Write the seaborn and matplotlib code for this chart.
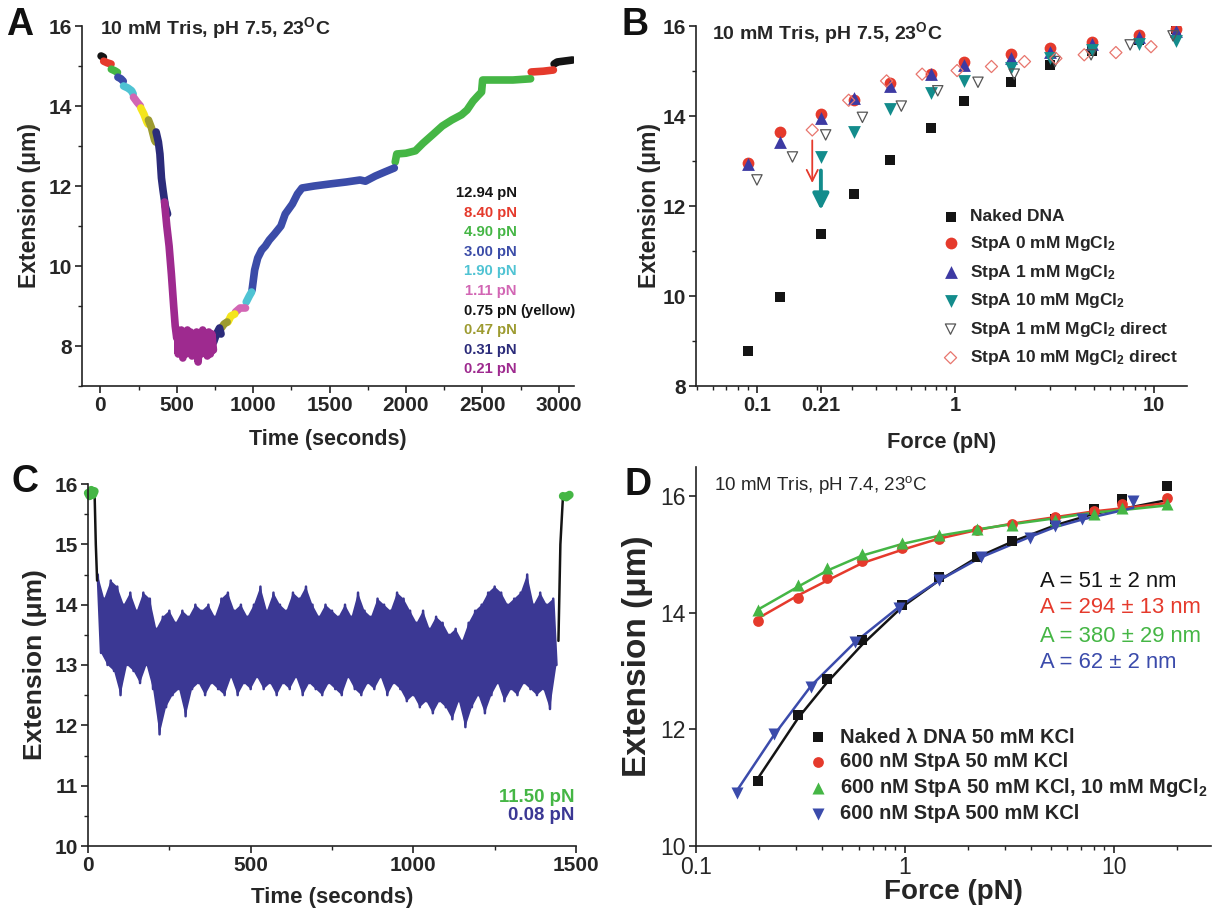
import numpy as np
import pandas as pd
import matplotlib
matplotlib.use("Agg")
import matplotlib.pyplot as plt
import seaborn as sns
from matplotlib import font_manager
from matplotlib.ticker import MultipleLocator, LogLocator, NullFormatter

# ---------------- data ----------------
# Panel A: extension trace (time s, extension um, applied force label)
a_time = [5, 20,
          22, 45, 70,
          72, 95, 112,
          115, 135, 150,
          152, 180, 205, 215,
          217, 240, 262,
          265, 285, 305, 312,
          315, 335, 355, 362,
          365, 380, 390, 400, 410, 425, 440,
          420, 435, 450, 465, 480, 490, 500, 505, 510, 515, 520, 530, 540, 550, 560, 570,
          580, 590, 600, 610, 620, 630, 640, 650, 660, 670, 680, 690, 700, 710, 720, 730, 740,
          742, 760, 780, 790,
          792, 810, 830,
          835, 855, 880,
          885, 915, 950,
          955, 975, 990,
          993, 1010, 1030, 1056, 1080, 1106, 1140, 1182, 1210, 1257, 1290, 1320, 1400, 1500,
          1609, 1700, 1735, 1800, 1861, 1924,
          1930, 1940, 2000, 2062, 2112, 2180, 2238, 2300, 2364, 2400, 2439, 2470, 2495, 2502,
          2600, 2700, 2816,
          2820, 2900, 2965,
          2970, 2990, 3030, 3090]
a_ext = [15.25, 15.22,
         15.12, 15.08, 15.05,
         14.92, 14.88, 14.84,
         14.72, 14.68, 14.62,
         14.50, 14.45, 14.38, 14.30,
         14.22, 14.10, 14.00,
         13.95, 13.80, 13.60, 13.55,
         13.65, 13.45, 13.15, 13.10,
         13.35, 13.10, 12.80, 12.20, 11.90, 11.50, 11.30,
         11.60, 11.00, 10.50, 9.80, 9.00, 8.50, 8.20, 8.40, 7.80, 8.35, 7.90, 8.40, 7.70, 8.30, 7.80, 8.40,
         7.90, 8.35, 7.75, 8.30, 7.85, 8.35, 7.60, 8.30, 7.80, 8.40, 7.85, 8.30, 7.75, 8.35, 7.80, 8.30, 7.90,
         8.10, 8.30, 8.45, 8.30,
         8.45, 8.55, 8.60,
         8.60, 8.75, 8.80,
         8.85, 8.95, 8.95,
         9.10, 9.25, 9.35,
         9.40, 9.90, 10.20, 10.40, 10.50, 10.65, 10.80, 11.00, 11.30, 11.55, 11.80, 11.95, 12.00, 12.05,
         12.10, 12.15, 12.12, 12.25, 12.35, 12.45,
         12.60, 12.80, 12.82, 12.88, 13.07, 13.30, 13.50, 13.65, 13.78, 13.90, 14.12, 14.25, 14.35, 14.65,
         14.65, 14.65, 14.68,
         14.85, 14.87, 14.90,
         15.05, 15.10, 15.12, 15.15]
a_force = (["12.94"] * 2 + ["8.40"] * 3 + ["4.90"] * 3 + ["3.00"] * 3 + ["1.90"] * 4 +
           ["1.11"] * 3 + ["0.75"] * 4 + ["0.47"] * 4 + ["0.31"] * 7 + ["0.21"] * 33 +
           ["0.31"] * 4 + ["0.47"] * 3 + ["0.75"] * 3 + ["1.11"] * 3 + ["1.90"] * 3 +
           ["3.00"] * 20 + ["4.90"] * 17 + ["8.40"] * 3 + ["12.94"] * 4)

a_labels = ["12.94", "8.40", "4.90", "3.00", "1.90", "1.11", "0.75", "0.47", "0.31", "0.21"]
force_colors = {"12.94": "#141414", "8.40": "#e53a2c", "4.90": "#45b645",
                "3.00": "#3b4ca8", "1.90": "#4fc3d3", "1.11": "#d266b4",
                "0.75": "#f4e51c", "0.47": "#9d9b30", "0.31": "#2b2b7a",
                "0.21": "#9e2a8f"}

# Panel B: force-extension
b_force = [0.09, 0.131, 0.21, 0.31, 0.47, 0.75, 1.11, 1.9, 3.0, 4.9, 8.4, 12.94]
b_naked = [8.77, 9.98, 11.37, 12.26, 13.03, 13.74, 14.34, 14.75, 15.13, 15.45, 15.70, 15.93]
b_stpa0 = [12.96, 13.65, 14.04, 14.35, 14.74, 14.93, 15.21, 15.37, 15.52, 15.64, 15.81, 15.93]
b_stpa1 = [12.93, 13.42, 13.95, 14.41, 14.67, 14.93, 15.13, 15.28, 15.43, 15.61, 15.76, 15.90]
b_force10 = [0.21, 0.31, 0.47, 0.75, 1.11, 1.9, 3.0, 4.9, 8.4, 12.94]
b_stpa10 = [13.09, 13.65, 14.15, 14.52, 14.78, 15.06, 15.28, 15.47, 15.59, 15.67]
b_force_d1 = [0.1, 0.151, 0.222, 0.34, 0.534, 0.815, 1.30, 1.98, 3.18, 4.83, 7.6, 12.5]
b_direct1 = [12.58, 13.09, 13.58, 13.97, 14.22, 14.56, 14.75, 14.93, 15.21, 15.36, 15.58, 15.78]
b_force_d10 = [0.19, 0.29, 0.45, 0.68, 1.02, 1.52, 2.23, 3.21, 4.46, 6.44, 9.68]
b_direct10 = [13.69, 14.35, 14.78, 14.93, 15.01, 15.10, 15.21, 15.28, 15.36, 15.41, 15.54]

# Panel C: constant low-force trace (upper / lower excursions of the noisy signal)
c_hi = [14.5, 14.1, 14.4, 14.3, 14.0, 14.2, 13.9, 14.2, 14.1, 13.6,
        13.8, 13.9, 13.7, 13.9, 13.8, 14.0, 13.9, 14.0, 13.8, 14.1,
        14.2, 13.9, 14.0, 13.8, 14.0, 14.3, 13.9, 14.2, 14.0, 13.9,
        14.2, 14.1, 14.3, 14.0, 13.8, 14.0, 13.9, 13.8, 14.0, 13.8,
        14.2, 13.9, 13.8, 14.1, 14.0, 13.9, 14.2, 14.1, 13.9, 13.7,
        13.9, 13.6, 13.8, 13.7, 13.5, 13.6, 13.4, 13.7, 13.9, 14.0,
        14.2, 14.3, 14.2, 14.0, 14.1, 14.2, 14.5, 14.0, 14.2, 14.0,
        14.1]
c_lo = [13.2, 13.0, 12.9, 12.5, 13.0, 12.9, 12.7, 13.0, 12.6, 11.85,
        12.3, 12.5, 12.6, 12.15, 12.6, 12.7, 12.5, 12.7, 12.6, 12.5,
        12.8, 12.5, 12.7, 12.6, 12.8, 12.6, 12.7, 12.5, 12.7, 12.6,
        12.8, 12.5, 12.7, 12.6, 12.5, 12.7, 12.6, 12.5, 12.8, 12.6,
        12.5, 12.7, 12.6, 12.8, 12.5, 12.7, 12.6, 12.4, 12.5, 12.3,
        12.4, 12.2, 12.4, 12.3, 12.1, 12.4, 11.97, 12.3, 12.5, 12.2,
        12.5, 12.7, 12.4, 12.6, 12.5, 12.7, 12.6, 12.5, 12.6, 12.27,
        13.0]
c_start_t = [0, 5, 10, 15, 20]
c_start = [15.85, 15.80, 15.90, 15.82, 15.88]
c_drop_t = [20, 24, 28]
c_drop = [15.90, 15.00, 14.40]
c_rise_t = [1446, 1452, 1460]
c_rise = [13.40, 15.00, 15.80]
c_end_t = [1460, 1470, 1480]
c_end = [15.80, 15.78, 15.82]

# Panel D: force-extension with fits
d_force = [0.197, 0.309, 0.423, 0.623, 0.97, 1.45, 2.22, 3.27, 5.24, 8.07, 10.9, 17.9]
d_naked = [11.11, 12.24, 12.86, 13.53, 14.14, 14.62, 14.96, 15.23, 15.61, 15.78, 15.95, 16.17]
d_stpa50 = [13.86, 14.25, 14.59, 14.88, 15.11, 15.26, 15.42, 15.52, 15.65, 15.75, 15.87, 15.97]
d_stpa_mg = [14.05, 14.47, 14.76, 15.00, 15.20, 15.34, 15.44, 15.51, 15.59, 15.70, 15.80, 15.87]
d_force_salt = [0.157, 0.236, 0.356, 0.579, 0.937, 1.45, 2.31, 3.96, 5.24, 7.08, 12.4]
d_salt = [10.91, 11.92, 12.73, 13.50, 14.09, 14.57, 14.95, 15.29, 15.49, 15.61, 15.92]
d_fit_naked = [11.15, 12.20, 12.80, 13.45, 14.10, 14.55, 14.95, 15.22, 15.50, 15.70, 15.78, 15.93]
d_fit_stpa50 = [13.90, 14.30, 14.55, 14.85, 15.08, 15.27, 15.42, 15.53, 15.64, 15.74, 15.79, 15.88]
d_fit_stpa_mg = [14.05, 14.45, 14.72, 14.98, 15.18, 15.32, 15.43, 15.52, 15.62, 15.72, 15.76, 15.84]
d_fit_salt = [10.95, 11.90, 12.75, 13.50, 14.10, 14.55, 14.95, 15.30, 15.47, 15.60, 15.80]
d_fit_text = ["A = 51 ± 2 nm", "A = 294 ± 13 nm", "A = 380 ± 29 nm", "A = 62 ± 2 nm"]

# ---------------- style ----------------
sns.set_theme(style="ticks")
names = {f.name for f in font_manager.fontManager.ttflist}
BASE = "Liberation Sans" if "Liberation Sans" in names else "DejaVu Sans"
NARROW = "Liberation Sans Narrow" if "Liberation Sans Narrow" in names else BASE
plt.rcParams["font.family"] = [BASE, "DejaVu Sans"]
plt.rcParams["mathtext.fontset"] = "custom"
plt.rcParams["mathtext.rm"] = BASE
plt.rcParams["mathtext.bf"] = BASE + ":bold"
plt.rcParams["mathtext.it"] = BASE + ":italic"
plt.rcParams["axes.linewidth"] = 1.2
plt.rcParams["axes.edgecolor"] = "#222222"

BLACK, RED, GREEN = "#141414", "#e53a2c", "#45b645"
INDIGO, TEAL, NAVY = "#3d3aa3", "#138c8c", "#3b3894"

W, H = 1213, 919
fig = plt.figure(figsize=(W / 100, H / 100), dpi=100, facecolor="white")


def rect(l, r, t, b):
    return [l / W, 1 - b / H, (r - l) / W, (b - t) / H]


axA = fig.add_axes(rect(82, 574, 26, 386))
axB = fig.add_axes(rect(696, 1187, 26, 386))
axC = fig.add_axes(rect(88, 576, 484, 846))
axD = fig.add_axes(rect(696, 1211, 467, 846))

for ax in (axA, axB, axC, axD):
    sns.despine(ax=ax)
    ax.tick_params(which="major", direction="out", length=5, width=1.2, pad=2.5, color="#222222")
    ax.tick_params(which="minor", direction="out", length=3, width=1.0, color="#222222")

# ---------------- panel A ----------------
dfA = pd.DataFrame({"t": a_time, "ext": a_ext, "force": a_force})
dfA["seg"] = (dfA["force"] != dfA["force"].shift()).cumsum()
sns.lineplot(data=dfA, x="t", y="ext", hue="force", units="seg", estimator=None, sort=False,
             palette=force_colors, linewidth=5.5, legend=False, ax=axA)
axA.set_xlim(-120, 3100)
axA.set_ylim(7, 16)
axA.set_xticks([0, 500, 1000, 1500, 2000, 2500, 3000],
               labels=["0", "500", "1000", "1500", "2000", "2500", "3000"],
               fontsize=15, fontweight="bold")
axA.set_yticks([8, 10, 12, 14, 16], labels=["8", "10", "12", "14", "16"],
               fontsize=15, fontweight="bold")
axA.xaxis.set_minor_locator(MultipleLocator(250))
axA.yaxis.set_minor_locator(MultipleLocator(1))
axA.set_xlabel("Time (seconds)", fontsize=15.5, fontweight="bold", labelpad=10)
axA.set_ylabel("Extension (μm)", fontsize=16.5, fontweight="bold", labelpad=5)
axA.text(0.037, 0.995, r"10 mM Tris, pH 7.5, 23$^{\mathbf{O}}$C", transform=axA.transAxes,
         fontsize=14, fontweight="bold", family=NARROW, va="center", ha="left")
for i, f in enumerate(a_labels):
    yy = 1 - (193 + i * 19.6 - 26) / 360
    col = BLACK if f in ("12.94", "0.75") else force_colors[f]
    axA.text(0.884, yy, f + " pN", transform=axA.transAxes, fontsize=10.7, fontweight="bold",
             color=col, ha="right", va="center")
    if f == "0.75":
        axA.text(0.891, yy, "(yellow)", transform=axA.transAxes, fontsize=10.7,
                 fontweight="bold", color=BLACK, ha="left", va="center")

# ---------------- panel B ----------------
sns.scatterplot(x=b_force, y=b_naked, marker="s", s=50, color=BLACK, linewidth=0,
                label="Naked DNA", ax=axB, zorder=3)
sns.scatterplot(x=b_force, y=b_stpa0, marker="o", s=72, color=RED, linewidth=0,
                label=r"StpA 0 mM MgCl$_\mathbf{2}$", ax=axB, zorder=3)
sns.scatterplot(x=b_force, y=b_stpa1, marker="^", s=85, color=INDIGO, linewidth=0,
                label=r"StpA 1 mM MgCl$_\mathbf{2}$", ax=axB, zorder=4)
sns.scatterplot(x=b_force10, y=b_stpa10, marker="v", s=85, color=TEAL, linewidth=0,
                label=r"StpA 10 mM MgCl$_\mathbf{2}$", ax=axB, zorder=4)
sns.scatterplot(x=b_force_d1, y=b_direct1, marker="v", s=55, color="#555555", linewidth=0.9,
                label=r"StpA 1 mM MgCl$_\mathbf{2}$ direct", ax=axB, zorder=5)
axB.collections[-1].set_facecolor("none")
axB.collections[-1].set_edgecolor("#555555")
sns.scatterplot(x=b_force_d10, y=b_direct10, marker="D", s=38, color="#e8766e", linewidth=0.9,
                label=r"StpA 10 mM MgCl$_\mathbf{2}$ direct", ax=axB, zorder=5)
axB.collections[-1].set_facecolor("none")
axB.collections[-1].set_edgecolor("#e8766e")
axB.annotate("", xy=(0.19, 12.45), xytext=(0.19, 13.52),
             arrowprops=dict(arrowstyle="->", color=RED, lw=1.3, mutation_scale=20))
axB.annotate("", xy=(0.21, 11.85), xytext=(0.21, 12.85),
             arrowprops=dict(arrowstyle="-|>", color=TEAL, lw=2.8, mutation_scale=24))
axB.set_xscale("log")
axB.set_xlim(0.0493, 14.7)
axB.set_ylim(8, 16)
axB.set_xticks([0.1, 0.21, 1, 10], labels=["0.1", "0.21", "1", "10"],
               fontsize=14.5, fontweight="bold")
axB.xaxis.set_minor_locator(LogLocator(base=10, subs=np.arange(2, 10)))
axB.xaxis.set_minor_formatter(NullFormatter())
axB.set_yticks([8, 10, 12, 14, 16], labels=["8", "10", "12", "14", "16"],
               fontsize=15, fontweight="bold")
axB.yaxis.set_minor_locator(MultipleLocator(1))
axB.set_xlabel("Force (pN)", fontsize=15.7, fontweight="bold", labelpad=12)
axB.set_ylabel("Extension (μm)", fontsize=16.5, fontweight="bold", labelpad=1)
axB.text(0.033, 0.98, r"10 mM Tris, pH 7.5, 23$^{\mathbf{O}}$C", transform=axB.transAxes,
         fontsize=14, fontweight="bold", family=NARROW, va="center", ha="left")
axB.legend(loc="upper left", bbox_to_anchor=(0.483, 0.51), frameon=False,
           prop={"weight": "bold", "size": 12.5}, handletextpad=0.5, labelspacing=0.55,
           borderaxespad=0, borderpad=0.4, handlelength=1.2)

# ---------------- panel C ----------------
n = len(c_hi)
t_hi = 30 + 20 * np.arange(n)
t_lo = t_hi + 10
t_zig = np.empty(2 * n)
y_zig = np.empty(2 * n)
t_zig[0::2], t_zig[1::2] = t_hi, t_lo
y_zig[0::2], y_zig[1::2] = c_hi, c_lo
dfC = pd.concat([
    pd.DataFrame({"t": c_start_t, "ext": c_start, "part": "11.50", "seg": 0}),
    pd.DataFrame({"t": c_drop_t, "ext": c_drop, "part": "trans", "seg": 1}),
    pd.DataFrame({"t": t_zig, "ext": y_zig, "part": "0.08", "seg": 2}),
    pd.DataFrame({"t": c_rise_t, "ext": c_rise, "part": "trans", "seg": 3}),
    pd.DataFrame({"t": c_end_t, "ext": c_end, "part": "11.50", "seg": 4}),
])
# dense noisy band: polygon between upper and lower excursions, plus the zigzag trace
axC.fill(np.r_[t_hi, t_lo[::-1]], np.r_[c_hi, np.asarray(c_lo)[::-1]],
         color=NAVY, linewidth=0, zorder=1)
sns.lineplot(data=dfC[dfC["part"] == "0.08"], x="t", y="ext", color=NAVY, linewidth=1.8,
             estimator=None, sort=False, ax=axC)
sns.lineplot(data=dfC[dfC["part"] == "trans"], x="t", y="ext", units="seg", color=BLACK,
             linewidth=1.8, estimator=None, sort=False, ax=axC)
sns.lineplot(data=dfC[dfC["part"] == "11.50"], x="t", y="ext", units="seg", color=GREEN,
             linewidth=6, estimator=None, sort=False, ax=axC)
for line in axC.lines:
    line.set_clip_on(False)
axC.set_xlim(0, 1500)
axC.set_ylim(10, 16)
axC.set_xticks([0, 500, 1000, 1500], labels=["0", "500", "1000", "1500"],
               fontsize=15, fontweight="bold")
axC.set_yticks([10, 11, 12, 13, 14, 15, 16],
               labels=["10", "11", "12", "13", "14", "15", "16"], fontsize=15, fontweight="bold")
axC.xaxis.set_minor_locator(MultipleLocator(250))
axC.yaxis.set_minor_locator(MultipleLocator(0.5))
axC.set_xlabel("Time (seconds)", fontsize=16, fontweight="bold", labelpad=8)
axC.set_ylabel("Extension (μm)", fontsize=19, fontweight="bold", labelpad=5)
axC.text(0.996, 0.135, "11.50 pN", transform=axC.transAxes, fontsize=13.4, fontweight="bold",
         color=GREEN, ha="right", va="center")
axC.text(0.996, 0.084, "0.08 pN", transform=axC.transAxes, fontsize=13.4, fontweight="bold",
         color=NAVY, ha="right", va="center")

# ---------------- panel D ----------------
D_BLUE = "#3b4bab"
sns.lineplot(x=d_force, y=d_fit_naked, color=BLACK, linewidth=1.8, ax=axD)
sns.lineplot(x=d_force, y=d_fit_stpa50, color=RED, linewidth=1.8, ax=axD)
sns.lineplot(x=d_force, y=d_fit_stpa_mg, color=GREEN, linewidth=1.8, ax=axD)
sns.lineplot(x=d_force_salt, y=d_fit_salt, color=D_BLUE, linewidth=1.8, ax=axD)
sns.scatterplot(x=d_force, y=d_naked, marker="s", s=45, color=BLACK, linewidth=0,
                label="Naked λ DNA 50 mM KCl", ax=axD, zorder=3)
sns.scatterplot(x=d_force, y=d_stpa50, marker="o", s=60, color=RED, linewidth=0,
                label="600 nM StpA 50 mM KCl", ax=axD, zorder=3)
sns.scatterplot(x=d_force, y=d_stpa_mg, marker="^", s=75, color=GREEN, linewidth=0,
                label=r"600 nM StpA 50 mM KCl, 10 mM MgCl$_\mathbf{2}$", ax=axD, zorder=4)
sns.scatterplot(x=d_force_salt, y=d_salt, marker="v", s=75, color=D_BLUE, linewidth=0,
                label="600 nM StpA 500 mM KCl", ax=axD, zorder=4)
axD.set_xscale("log")
axD.set_xlim(0.1, 29.2)
axD.set_ylim(10, 16.5)
axD.set_xticks([0.1, 1, 10], labels=["0.1", "1", "10"], fontsize=16.5)
axD.xaxis.set_minor_locator(LogLocator(base=10, subs=np.arange(2, 10)))
axD.xaxis.set_minor_formatter(NullFormatter())
axD.set_yticks([10, 12, 14, 16], labels=["10", "12", "14", "16"], fontsize=16.5)
axD.set_xlabel("Force (pN)", fontsize=20, fontweight="bold", labelpad=0)
axD.set_ylabel("Extension (μm)", fontsize=24, fontweight="bold", labelpad=5)
axD.text(0.035, 0.953, r"10 mM Tris, pH 7.4, 23$^{\mathrm{o}}$C", transform=axD.transAxes,
         fontsize=13.5, family=NARROW, va="center", ha="left")
for txt, col, yy in zip(d_fit_text, [BLACK, RED, GREEN, D_BLUE], [0.697, 0.628, 0.554, 0.483]):
    axD.text(0.668, yy, txt, transform=axD.transAxes, fontsize=15.8, color=col,
             ha="left", va="center")
axD.legend(loc="upper left", bbox_to_anchor=(0.217, 0.312), frameon=False,
           prop={"weight": "bold", "size": 14.5}, handletextpad=0.6, labelspacing=0.25,
           borderaxespad=0, borderpad=0, handlelength=1.0)

# ---------------- panel letters ----------------
for letter, (px, py) in zip("ABCD", [(20, 25), (635, 25), (25, 482), (638, 485)]):
    fig.text(px / W, 1 - py / H, letter, fontsize=27, fontweight="bold", ha="center",
             va="center", color="#111111")

fig.savefig("out.png", dpi=100, facecolor="white")
